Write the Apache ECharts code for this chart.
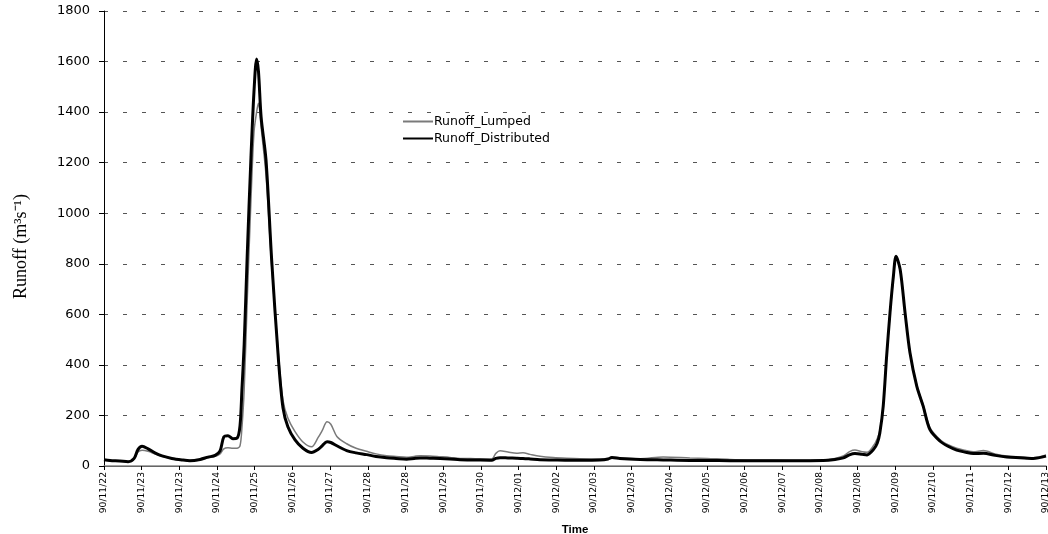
<!DOCTYPE html>
<html>
<head>
<meta charset="utf-8">
<script src="https://cdn.jsdelivr.net/npm/echarts@6/dist/echarts.min.js"></script>
<style>
html,body{margin:0;padding:0;background:#fff;}
#chart{width:1048px;height:534px;}
</style>
</head>
<body>
<div id="chart"></div>
<script>
// x-axis tick labels (one per axis step)
const tickLabels = ['90/11/22','90/11/23','90/11/23','90/11/24','90/11/25','90/11/26','90/11/27','90/11/28','90/11/28','90/11/29','90/11/30','90/12/01','90/12/02','90/12/03','90/12/03','90/12/04','90/12/05','90/12/06','90/12/07','90/12/08','90/12/08','90/12/09','90/12/10','90/12/11','90/12/12','90/12/13'];

// time position of each sample, measured in axis steps (0 = 90/11/22 tick)
const stepPos = [0,0.16,0.42,0.64,0.80,0.90,1.01,1.17,1.35,1.54,1.80,2.07,2.28,2.55,2.76,2.95,3.08,3.18,3.29,3.42,3.53,3.61,3.66,3.72,3.80,3.90,3.98,4.05,4.10,4.17,4.30,4.45,4.63,4.75,4.88,5.07,5.28,5.51,5.68,5.79,5.92,6.02,6.18,6.44,6.69,6.97,7.22,7.50,7.75,8.03,8.23,8.39,8.65,8.92,9.18,9.45,9.85,10.29,10.40,10.51,10.72,10.95,11.12,11.31,11.57,11.92,12.28,12.63,13.16,13.38,13.48,13.69,14.23,14.84,15.55,16.00,16.61,17.32,18.21,19.09,19.40,19.62,19.80,19.93,20.12,20.25,20.42,20.52,20.59,20.68,20.77,20.86,20.95,21.02,21.13,21.26,21.39,21.57,21.74,21.92,22.19,22.40,22.63,22.85,23.07,23.34,23.65,23.96,24.31,24.66,25.0];

// Runoff (m3/s)
const runoffLumped = [25,22,20,17,28,55,62,58,48,38,30,24,22,24,33,38,48,68,72,70,70,80,150,300,650,1050,1320,1400,1435,1340,1150,790,440,260,190,136,95,76,112,140,175,165,117,88,70,58,48,41,38,35,38,41,40,37,34,30,29,28,50,60,55,50,52,46,39,34,31,29,28,30,36,32,29,36,32,30,26,24,23,24,30,40,58,63,56,54,80,108,140,240,430,600,745,825,775,606,450,320,242,152,104,84,70,62,56,61,48,40,36,33,44];
const runoffDistributed = [25,22,20,17,30,65,78,68,52,40,30,24,21,26,35,42,60,115,120,108,110,160,300,480,830,1220,1480,1610,1560,1380,1210,815,420,230,155,103,70,53,65,80,96,93,80,61,52,45,38,33,30,27,30,32,31,30,28,25,24,23,30,33,32,31,30,28,25,24,23,23,24,28,34,30,26,24,22,22,21,21,21,22,26,32,45,49,46,44,65,90,131,237,434,606,751,830,777,606,448,316,237,144,98,78,63,55,49,50,42,36,33,30,39];

const pairs = (ys) => stepPos.map((t, i) => [t, ys[i]]);

const chart = echarts.init(document.getElementById('chart'), null, {renderer: 'canvas'});
chart.setOption({
  animation: false,
  backgroundColor: '#fff',
  grid: {left: 104, right: 2, top: 11, bottom: 68, containLabel: false, outerBoundsMode: 'none'},
  legend: {
    orient: 'vertical',
    left: 397,
    top: 110,
    itemWidth: 30,
    itemHeight: 10,
    itemGap: 4,
    itemStyle: {opacity: 0},
    textStyle: {fontFamily: 'DejaVu Sans', fontSize: 12.5, color: '#000', padding: [0, 0, 0, -4]},
    data: ['Runoff_Lumped', 'Runoff_Distributed']
  },
  xAxis: [{
    type: 'value',
    min: 0,
    max: 25,
    interval: 1,
    name: 'Time',
    nameLocation: 'middle',
    nameGap: 58,
    nameTextStyle: {fontFamily: 'Liberation Sans', fontWeight: 'bold', fontSize: 11.5, color: '#000'},
    axisLine: {show: true, onZero: false, lineStyle: {color: '#000', width: 1}},
    axisTick: {show: true, length: 4, lineStyle: {color: '#000'}},
    axisLabel: {
      rotate: 90,
      margin: 6,
      fontFamily: 'DejaVu Sans',
      fontSize: 9.2,
      color: '#000',
      showMaxLabel: true,
      showMinLabel: true,
      formatter: (v) => tickLabels[Math.round(v)] || ''
    },
    splitLine: {show: false}
  }, {
    type: 'value',
    position: 'top',
    min: 0,
    max: 25,
    axisLine: {show: true, lineStyle: {color: '#888', width: 1.5}},
    axisTick: {show: false},
    axisLabel: {show: false},
    splitLine: {show: false}
  }],
  yAxis: {
    type: 'value',
    min: 0,
    max: 1800,
    interval: 200,
    name: 'Runoff (m\u00B3s\u207B\u00B9)',
    nameLocation: 'middle',
    nameGap: 74,
    nameRotate: 90,
    nameTextStyle: {fontFamily: 'Liberation Serif', fontSize: 18, color: '#000', padding: [0, 16, 0, 0]},
    axisLine: {show: true, lineStyle: {color: '#000', width: 1}},
    axisTick: {show: true, length: 5, lineStyle: {color: '#000'}},
    axisLabel: {margin: 14, fontFamily: 'DejaVu Sans', fontSize: 13, color: '#000', formatter: (v) => String(v)},
    splitLine: {show: true, lineStyle: {color: '#555', width: 1, type: [4, 15]}}
  },
  series: [{
    name: 'Runoff_Lumped',
    type: 'line',
    data: pairs(runoffLumped),
    symbol: 'none',
    smooth: 0.3,
    lineStyle: {color: '#7a7a7a', width: 1.5},
    itemStyle: {color: '#7a7a7a'},
    z: 2
  }, {
    name: 'Runoff_Distributed',
    type: 'line',
    data: pairs(runoffDistributed),
    symbol: 'none',
    smooth: 0.3,
    lineStyle: {color: '#000', width: 3},
    itemStyle: {color: '#000'},
    z: 3
  }]
});
</script>
</body>
</html>
